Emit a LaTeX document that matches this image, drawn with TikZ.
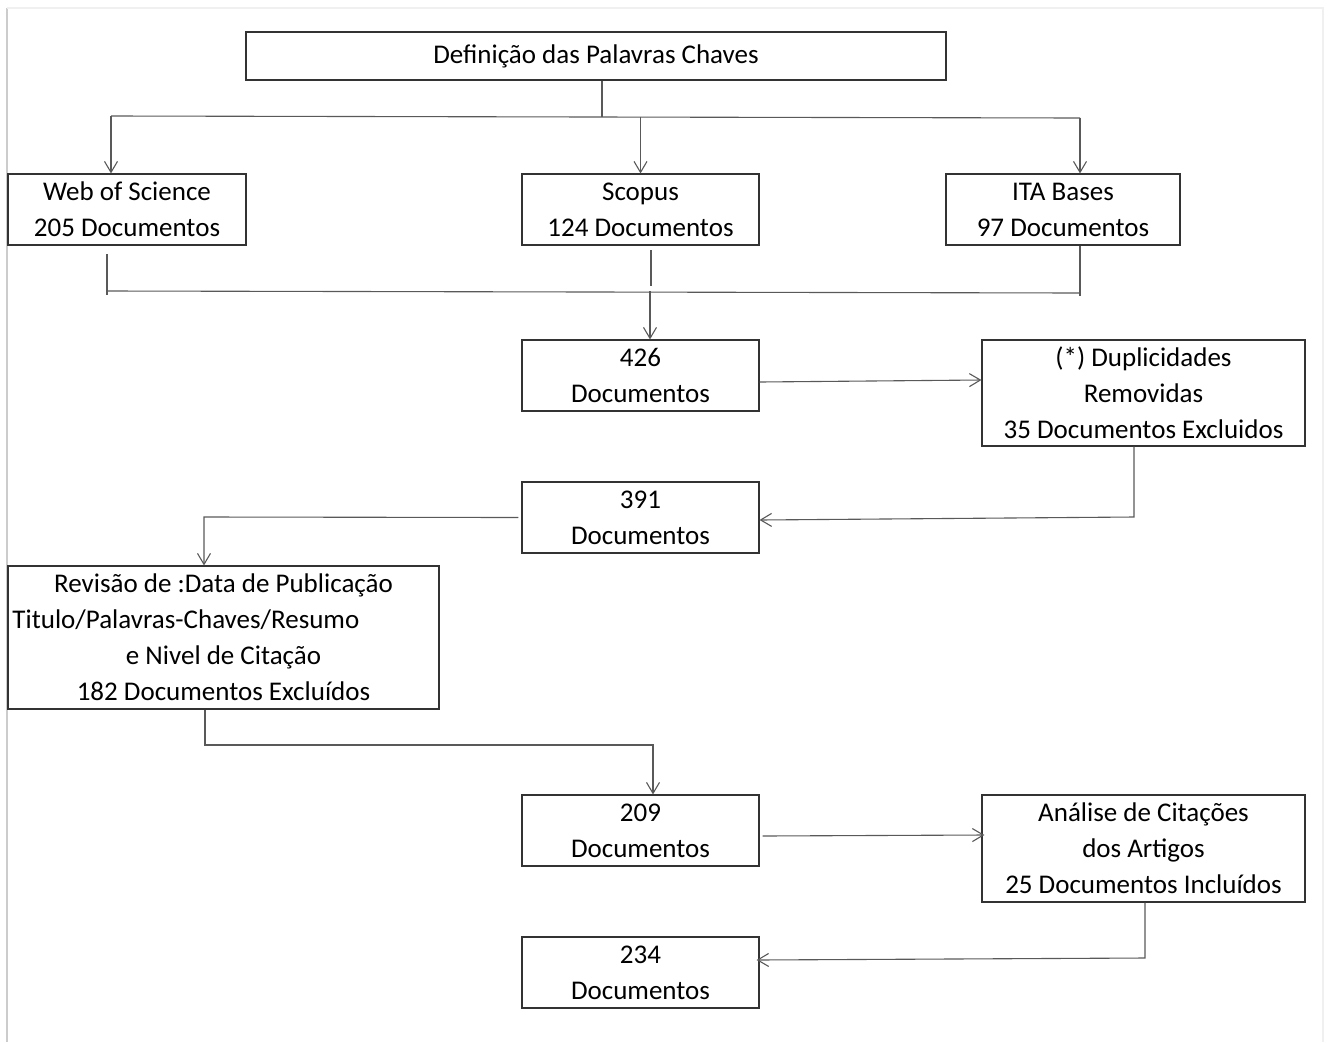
\documentclass[tikz,border=0pt]{standalone}
\usepackage{fontspec}
\setmainfont{Carlito}
\usetikzlibrary{arrows.meta}

\tikzset{
  box/.style={draw=black!80, line width=1.1pt, minimum width=237pt, minimum height=71pt,
    inner sep=0pt, align=center, font=\fontsize{27}{36}\selectfont},
  link/.style={draw=black!65, line width=1.1pt},
  arr/.style={link, -{Straight Barb[length=11pt, width=13pt, line width=1.1pt]}}
}

\begin{document}
\begin{tikzpicture}[x=1pt, y=-1pt]
        \useasboundingbox (0,0) rectangle (1330,1042);
        % frame
        \draw[black!20, line width=1.5pt] (7,8) -- (7,1042);
        \draw[black!6, line width=1.5pt] (7,8) -- (1323,8) -- (1323,1042);

        \node[box, minimum width=700pt, minimum height=48pt] (top) at (596,56) {Definição das Palavras Chaves};
        \node[box, minimum width=238pt] (wos) at (127,209.5) {Web of Science\\205 Documentos};
        \node[box] (scopus) at (640.5,209.5) {Scopus\\124 Documentos};
        \node[box, minimum width=234pt] (ita) at (1063,209.5) {ITA Bases\\97 Documentos};
        \node[box] (n426) at (640.5,375.5) {426\\Documentos};
        \node[box, minimum width=323pt, minimum height=106pt] (dup) at (1143.5,393) {(*) Duplicidades\\Removidas\\35 Documentos Excluidos};
        \node[box] (n391) at (640.5,517.5) {391\\Documentos};
        \node[box, minimum width=431pt, minimum height=143pt] (rev) at (223.5,637.5)
          {Revisão de :Data de Publicação\\\makebox[422pt][l]{Titulo/Palavras-Chaves/Resumo}\\e Nivel de Citação\\182 Documentos Excluídos};
        \node[box] (n209) at (640.5,830.5) {209\\Documentos};
        \node[box, minimum width=323pt, minimum height=107pt] (ana) at (1143.5,848.5) {Análise de Citações\\dos Artigos\\25 Documentos Incluídos};
        \node[box] (n234) at (640.5,972.5) {234\\Documentos};

        % split to the three bases
        \coordinate (split) at (602,117);
        \coordinate (sl) at (111,116);
        \coordinate (sr) at (1080,118);
        \draw[link] (top.south -| split) -- (split);
        \draw[link] (sl) -- (sr);
        \draw[arr] (sl) -- (sl |- wos.north);
        \draw[arr] (scopus.north |- split) -- (scopus.north);
        \draw[arr] (sr) -- (sr |- ita.north);

        % merge of the three bases
        \coordinate (ml) at (107,291);
        \coordinate (mr) at (1080,293);
        \coordinate (mc) at (650,291);
        \draw[link] (ml) -- (mr);
        \draw[link] (107,254) -- (107,295);
        \draw[link] (651,250) -- (651,286);
        \draw[link] (mr |- ita.south) -- (1080,296);
        \draw[arr] (mc) -- (mc |- n426.north);

        % duplicates
        \draw[arr] (n426.east |- 0,382) -- (dup.west |- 0,380);
        \coordinate (d1) at (1134,517);
        \draw[arr] (dup.south -| d1) -- (d1) -- (n391.east |- 0,520);

        % review
        \coordinate (r1) at (204,517);
        \draw[arr] ([xshift=-3pt]n391.west) -- (r1) -- (r1 |- rev.north);
        \coordinate (r2) at (205,745);
        \coordinate (r3) at (653,745);
        \draw[arr] (rev.south -| r2) -- (r2) -- (r3) -- (r3 |- n209.north);

        % citations
        \draw[arr] ([xshift=3pt]n209.east |- 0,836) -- ([xshift=3pt]ana.west |- 0,835);
        \coordinate (a1) at (1145,958);
        \draw[arr] (ana.south -| a1) -- (a1) -- ([xshift=-3pt]n234.east |- 0,960);
    \end{tikzpicture}
\end{document}
